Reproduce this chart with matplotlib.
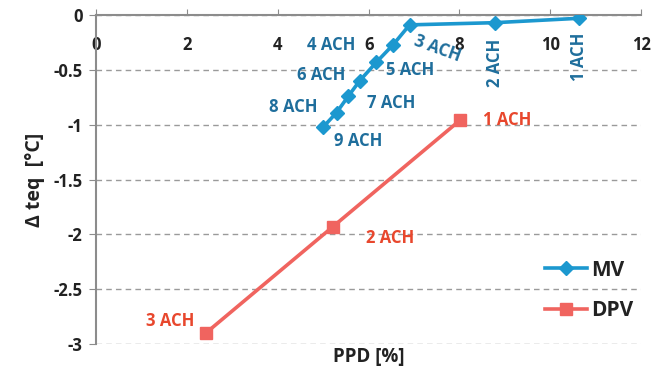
import matplotlib
matplotlib.use("Agg")
import matplotlib.pyplot as plt

plt.rcParams["font.family"] = ["Open Sans", "DejaVu Sans"]
plt.rcParams["font.weight"] = "bold"

# ventilation rates (air changes per hour) and results
mv_labels = ["1 ACH", "2 ACH", "3 ACH", "4 ACH", "5 ACH", "6 ACH", "7 ACH", "8 ACH", "9 ACH"]
mv_ppd = [10.63, 8.78, 6.90, 6.54, 6.17, 5.80, 5.55, 5.29, 5.00]
mv_dt = [-0.03, -0.07, -0.09, -0.27, -0.43, -0.60, -0.74, -0.89, -1.02]

dpv_labels = ["1 ACH", "2 ACH", "3 ACH"]
dpv_ppd = [8.01, 5.21, 2.41]
dpv_dt = [-0.96, -1.93, -2.90]

x_ticks = [0, 2, 4, 6, 8, 10, 12]
y_ticks = [0, -0.5, -1, -1.5, -2, -2.5, -3]

MV_LINE = "#1C98CF"
MV_TEXT = "#1F6E9C"
DPV_LINE = "#F0645F"
DPV_TEXT = "#E8472D"
AXIS_GREY = "#8C8C8C"

# label offsets in points (dx, dy, rotation)
mv_offsets = [(0, -28, 90), (0, -29, 90), (20, -17, -20), (-45, 0, 0), (24, -6, 0),
              (-28, 4, 0), (31, -5, 0), (-31, 4, 0), (25, -10, 0)]
dpv_offsets = [(34, 0, 0), (41, -8, 0), (-26, 9, 0)]

fig = plt.figure(figsize=(6.65, 3.76), dpi=100)
ax = fig.add_axes([0.1451, 0.0851, 0.8188, 0.875])

ax.plot(mv_ppd, mv_dt, color=MV_LINE, lw=2.6, marker="D", ms=7, label="MV", zorder=3)
ax.plot(dpv_ppd, dpv_dt, color=DPV_LINE, lw=2.6, marker="s", ms=9, label="DPV", zorder=3)

for lab, x, y, (dx, dy, rot) in zip(mv_labels, mv_ppd, mv_dt, mv_offsets):
    ax.annotate(lab, (x, y), xytext=(dx, dy), textcoords="offset points",
                ha="center", va="center", rotation=rot, color=MV_TEXT,
                fontsize=12, fontweight="bold")
for lab, x, y, (dx, dy, rot) in zip(dpv_labels, dpv_ppd, dpv_dt, dpv_offsets):
    ax.annotate(lab, (x, y), xytext=(dx, dy), textcoords="offset points",
                ha="center", va="center", rotation=rot, color=DPV_TEXT,
                fontsize=12, fontweight="bold")

ax.set_xlim(0, 12)
ax.set_ylim(-3, 0)
ax.set_xticks(x_ticks)
ax.set_yticks(y_ticks)
ax.set_yticklabels([f"{v:g}" for v in y_ticks])

# horizontal axis sits on y = 0, labels hang just below it
ax.xaxis.tick_top()
ax.tick_params(axis="x", direction="out", length=4, color=AXIS_GREY,
               labelsize=12, labelcolor="#222222", pad=-32)
ax.tick_params(axis="y", direction="out", length=5, color=AXIS_GREY,
               labelsize=12, labelcolor="#222222", pad=5)
for lab in ax.get_xticklabels() + ax.get_yticklabels():
    lab.set_fontweight("bold")

for side in ["right", "bottom"]:
    ax.spines[side].set_visible(False)
for side in ["left", "top"]:
    ax.spines[side].set_color(AXIS_GREY)
    ax.spines[side].set_linewidth(1.5)

ax.yaxis.grid(True, linestyle=(0, (4, 3)), color="#9A9A9A", lw=1)
ax.set_axisbelow(True)

ax.set_xlabel("PPD [%]", fontsize=13.5, fontweight="bold", color="#222222", labelpad=2)
ax.xaxis.set_label_position("bottom")
ax.set_ylabel("Δ teq  [°C]", fontsize=14, fontweight="bold", color="#222222", labelpad=6)

leg = ax.legend(loc="lower right", bbox_to_anchor=(1.02, 0.012), frameon=False,
                fontsize=15, handlelength=2.0, handletextpad=0.2, labelspacing=0.95)
for t in leg.get_texts():
    t.set_fontweight("bold")
    t.set_color("#222222")

fig.savefig("out.png", dpi=100)
